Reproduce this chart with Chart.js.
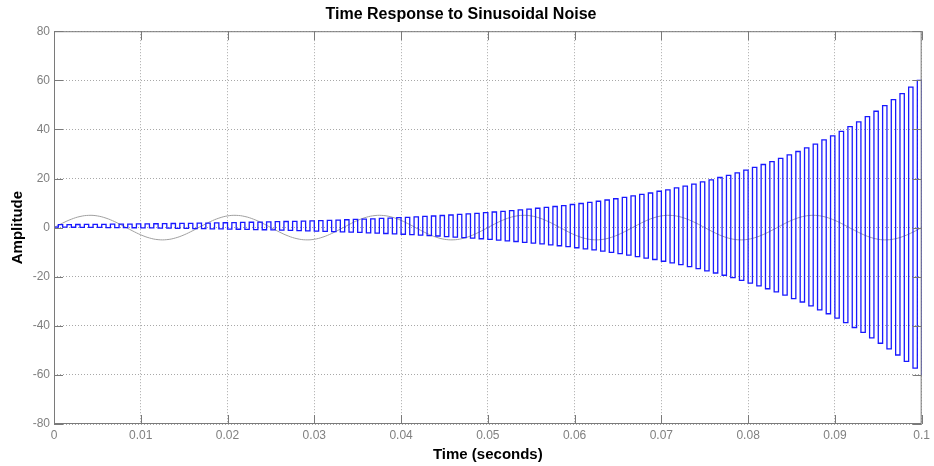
<!DOCTYPE html>
<html>
<head>
<meta charset="utf-8">
<title>Time Response to Sinusoidal Noise</title>
<script src="https://cdn.jsdelivr.net/npm/chart.js@4.4.1/dist/chart.umd.min.js"></script>
<style>
  html, body { margin: 0; padding: 0; background: #fff; }
  #wrap { width: 934px; height: 466px; }
</style>
</head>
<body>
<div id="wrap"><canvas id="responseChart" width="934" height="466"></canvas></div>
<script>
// Sample periods (seconds) of the two traces
const outputStep = 0.0005;
const inputStep = 0.001;

// Blue trace: system output, held between samples (stairs)
const outputValues = [
  0.2, 1.21, 0.18, 1.24, 0.15, 1.26, 0.12, 1.29, 0.09, 1.32,
  0.06, 1.35, 0.03, 1.38, 0.00, 1.42, -0.03, 1.45, -0.07, 1.49,
  -0.11, 1.53, -0.15, 1.57, -0.19, 1.61, -0.23, 1.66, -0.28, 1.70,
  -0.33, 1.75, -0.38, 1.80, -0.43, 1.86, -0.49, 1.92, -0.54, 1.97,
  -0.61, 2.04, -0.67, 2.10, -0.74, 2.17, -0.81, 2.24, -0.88, 2.32,
  -0.96, 2.40, -1.04, 2.48, -1.13, 2.57, -1.22, 2.66, -1.31, 2.76,
  -1.41, 2.86, -1.51, 2.97, -1.62, 3.08, -1.74, 3.20, -1.86, 3.32,
  -1.98, 3.45, -2.11, 3.58, -2.25, 3.72, -2.40, 3.87, -2.55, 4.03,
  -2.71, 4.19, -2.88, 4.37, -3.05, 4.55, -3.24, 4.73, -3.43, 4.93,
  -3.64, 5.14, -3.85, 5.36, -4.07, 5.59, -4.31, 5.83, -4.55, 6.08,
  -4.81, 6.35, -5.08, 6.62, -5.37, 6.91, -5.67, 7.22, -5.98, 7.54,
  -6.31, 7.88, -6.65, 8.23, -7.01, 8.60, -7.39, 8.99, -7.79, 9.40,
  -8.21, 9.82, -8.65, 10.27, -9.11, 10.74, -9.59, 11.24, -10.09, 11.76,
  -10.6, 12.3, -11.2, 12.9, -11.8, 13.5, -12.4, 14.1, -13.0, 14.8,
  -13.7, 15.4, -14.4, 16.2, -15.1, 16.9, -15.9, 17.7, -16.7, 18.6,
  -17.6, 19.4, -18.5, 20.4, -19.4, 21.3, -20.4, 22.3, -21.5, 23.4,
  -22.6, 24.5, -23.7, 25.7, -24.9, 26.9, -26.2, 28.2, -27.5, 29.6,
  -28.9, 31.0, -30.3, 32.5, -31.9, 34.0, -33.5, 35.7, -35.1, 37.4,
  -36.9, 39.2, -38.7, 41.1, -40.7, 43.1, -42.7, 45.2, -44.9, 47.4,
  -47.1, 49.7, -49.4, 52.1, -51.9, 54.6, -54.5, 57.2, -57.2, 60.0,
  -60.1
];

// Gray trace: the sinusoidal noise input
const inputValues = [
  0, 1.84, 3.42, 4.52, 4.99, 4.76, 3.85, 2.41, 0.63, -1.24,
  -2.94, -4.22, -4.91, -4.91, -4.22, -2.94, -1.24, 0.63, 2.41, 3.85,
  4.76, 4.99, 4.52, 3.42, 1.84, 0, -1.84, -3.42, -4.52, -4.99,
  -4.76, -3.85, -2.41, -0.63, 1.24, 2.94, 4.22, 4.91, 4.91, 4.22,
  2.94, 1.24, -0.63, -2.41, -3.85, -4.76, -4.99, -4.52, -3.42, -1.84,
  0, 1.84, 3.42, 4.52, 4.99, 4.76, 3.85, 2.41, 0.63, -1.24,
  -2.94, -4.22, -4.91, -4.91, -4.22, -2.94, -1.24, 0.63, 2.41, 3.85,
  4.76, 4.99, 4.52, 3.42, 1.84, 0, -1.84, -3.42, -4.52, -4.99,
  -4.76, -3.85, -2.41, -0.63, 1.24, 2.94, 4.22, 4.91, 4.91, 4.22,
  2.94, 1.24, -0.63, -2.41, -3.85, -4.76, -4.99, -4.52, -3.42, -1.84,
  0
];

// Axis ticks
const xTicks = [0, 0.01, 0.02, 0.03, 0.04, 0.05, 0.06, 0.07, 0.08, 0.09, 0.1];
const xTickLabels = ['0', '0.01', '0.02', '0.03', '0.04', '0.05', '0.06', '0.07', '0.08', '0.09', '0.1'];
const yTicks = [-80, -60, -40, -20, 0, 20, 40, 60, 80];
const yTickLabels = ['-80', '-60', '-40', '-20', '0', '20', '40', '60', '80'];

const fontFamily = '"Liberation Sans", Arial, sans-serif';
const frameColor = '#7a7a7a';

// Draw the closed axes box and the inward tick marks (MATLAB style)
const boxPlugin = {
  id: 'boxFrame',
  afterDatasetsDraw(chart) {
    const { ctx, chartArea: a, scales: { x, y } } = chart;
    const len = 9;
    ctx.save();
    ctx.strokeStyle = frameColor;
    ctx.lineWidth = 1;
    ctx.beginPath();
    xTicks.forEach(v => {
      const px = Math.round(x.getPixelForValue(v)) + 0.5;
      ctx.moveTo(px, a.bottom); ctx.lineTo(px, a.bottom - len);
      ctx.moveTo(px, a.top); ctx.lineTo(px, a.top + len);
    });
    yTicks.forEach(v => {
      const py = Math.round(y.getPixelForValue(v)) + 0.5;
      ctx.moveTo(a.left, py); ctx.lineTo(a.left + len, py);
      ctx.moveTo(a.right, py); ctx.lineTo(a.right - len, py);
    });
    ctx.stroke();
    ctx.strokeRect(a.left + 0.5, a.top + 0.5, a.right - a.left - 1, a.bottom - a.top - 1);
    ctx.restore();
  }
};

const ctx = document.getElementById('responseChart').getContext('2d');

new Chart(ctx, {
  type: 'line',
  data: {
    datasets: [
      {
        label: 'Output',
        data: outputValues.map((v, i) => ({ x: i * outputStep, y: v })),
        borderColor: 'rgb(25, 25, 255)',
        borderWidth: 1.3,
        stepped: true,
        pointRadius: 0,
        order: 0
      },
      {
        label: 'Input',
        data: inputValues.map((v, i) => ({ x: i * inputStep, y: v })),
        borderColor: '#a0a0a0',
        borderWidth: 1,
        tension: 0.4,
        pointRadius: 0,
        order: 1
      }
    ]
  },
  options: {
    responsive: false,
    animation: false,
    devicePixelRatio: 1,
    layout: { padding: { left: 0, right: 12, top: 0, bottom: 0 } },
    plugins: {
      legend: { display: false },
      tooltip: { enabled: false },
      title: {
        display: true,
        text: 'Time Response to Sinusoidal Noise',
        color: '#000',
        font: { family: fontFamily, size: 16, weight: 'bold' },
        padding: { top: 5, bottom: 7 }
      }
    },
    scales: {
      x: {
        type: 'linear',
        min: 0,
        max: 0.1,
        afterBuildTicks: scale => { scale.ticks = xTicks.map(v => ({ value: v })); },
        afterFit: scale => { scale.height = 42; },
        ticks: {
          autoSkip: false,
          maxRotation: 0,
          padding: 4,
          color: '#808080',
          font: { family: fontFamily, size: 12 },
          callback: (v, i) => xTickLabels[i]
        },
        grid: { color: '#a8a8a8', lineWidth: 1, drawTicks: false },
        border: { display: false, dash: [1, 2] },
        title: {
          display: true,
          text: 'Time (seconds)',
          color: '#000',
          font: { family: fontFamily, size: 15, weight: 'bold' },
          padding: { top: 0, bottom: 2 }
        }
      },
      y: {
        type: 'linear',
        min: -80,
        max: 80,
        afterBuildTicks: scale => { scale.ticks = yTicks.map(v => ({ value: v })); },
        afterFit: scale => { scale.width = 54; },
        ticks: {
          autoSkip: false,
          padding: 4,
          color: '#808080',
          font: { family: fontFamily, size: 12 },
          callback: (v, i) => yTickLabels[i]
        },
        grid: { color: '#a8a8a8', lineWidth: 1, drawTicks: false },
        border: { display: false, dash: [1, 2] },
        title: {
          display: true,
          text: 'Amplitude',
          color: '#000',
          font: { family: fontFamily, size: 15, weight: 'bold' },
          padding: { top: 9, bottom: 0 }
        }
      }
    }
  },
  plugins: [boxPlugin]
});
</script>
</body>
</html>
